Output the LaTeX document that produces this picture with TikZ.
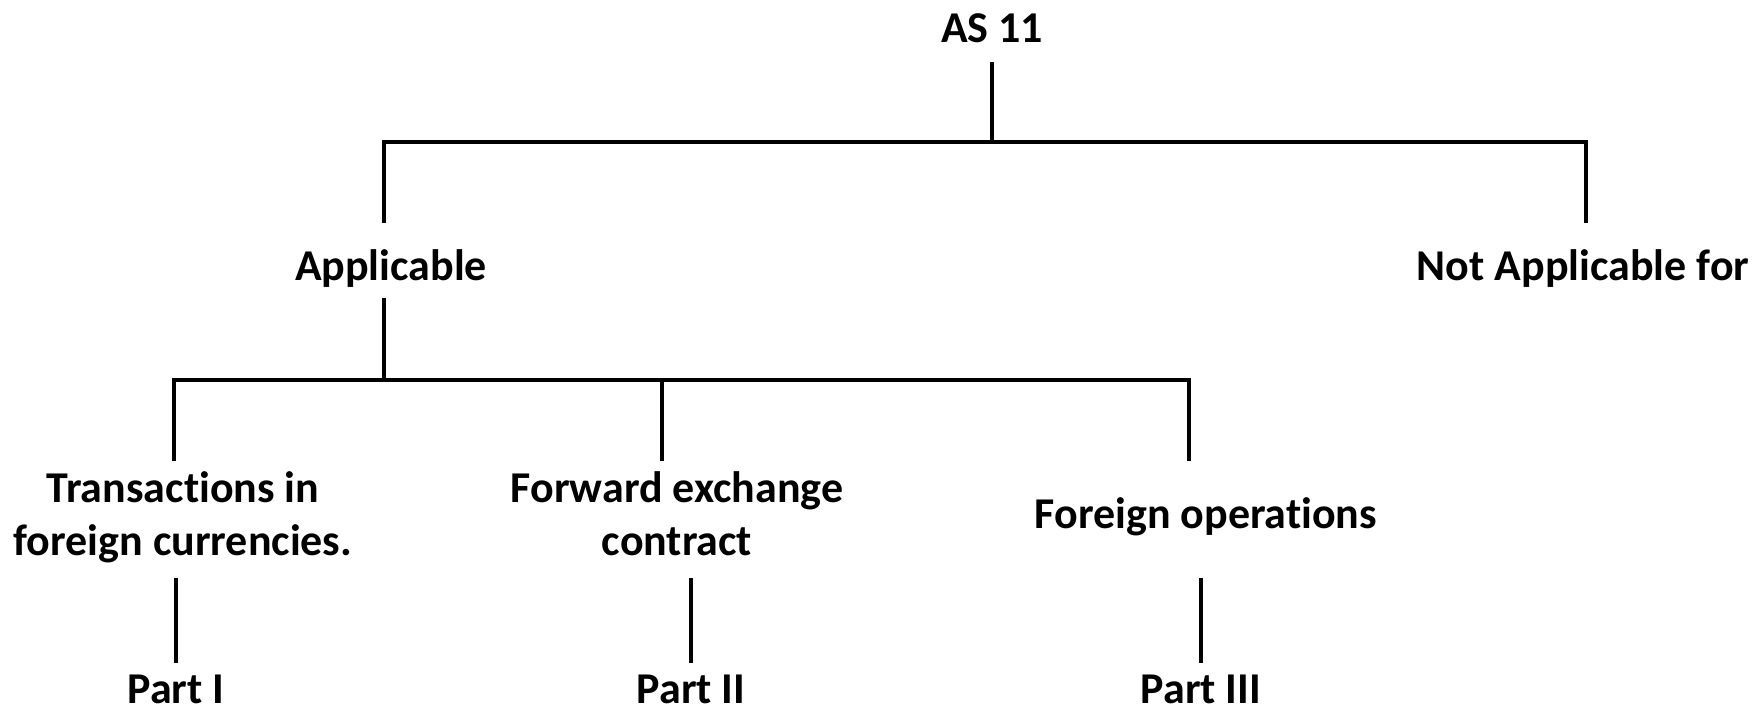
\documentclass[tikz,border=0pt]{standalone}
\usepackage{fontspec}
\setmainfont[Ligatures=NoCommon]{Carlito}
\begin{document}
\begin{tikzpicture}[x=1pt,y=-1pt,
  lbl/.style={font=\fontsize{44}{53}\selectfont\bfseries, inner sep=0pt, anchor=base, align=center},
  wire/.style={line width=4pt, line cap=rect}]
\useasboundingbox (0,0) rectangle (1757,711);

% text labels, placed on the baseline of their last line
\node[lbl] (as)   at (992,43)  {AS 11};
\node[lbl] (app)  at (391,281) {Applicable};
\node[lbl] (nap)  at (1583,281) {Not Applicable for};
\node[lbl] (trx)  at (183,555) {Transactions in\\foreign currencies.};
\node[lbl] (fwd)  at (677,555) {Forward exchange\\contract};
\node[lbl] (fop)  at (1206,528) {Foreign operations};
\node[lbl] (p1)   at (176,703) {Part I};
\node[lbl] (p2)   at (691,703) {Part II};
\node[lbl] (p3)   at (1201,703) {Part III};

% junction and stub points of the tree
\coordinate (asS)  at (992,64);
\coordinate (j1)   at (992,142);
\coordinate (jL)   at (384,142);
\coordinate (jR)   at (1586,142);
\coordinate (appN) at (384,221);
\coordinate (napN) at (1586,221);
\coordinate (appS) at (384,300);
\coordinate (j2)   at (384,380);
\coordinate (kL)   at (174,380);
\coordinate (kM)   at (662,380);
\coordinate (kR)   at (1189,380);
\coordinate (trxN) at (174,459);
\coordinate (fwdN) at (662,459);
\coordinate (fopN) at (1189,459);
\coordinate (trxS) at (176,580);
\coordinate (fwdS) at (691,580);
\coordinate (fopS) at (1201,580);
\coordinate (p1N)  at (176,661);
\coordinate (p2N)  at (691,661);
\coordinate (p3N)  at (1201,661);

% connectors
\draw[wire] (asS) -- (j1);
\draw[wire] (appN) -- (jL) -- (jR) -- (napN);
\draw[wire] (appS) -- (j2);
\draw[wire] (trxN) -- (kL) -- (kR) -- (fopN);
\draw[wire] (kM) -- (fwdN);
\draw[wire] (trxS) -- (p1N);
\draw[wire] (fwdS) -- (p2N);
\draw[wire] (fopS) -- (p3N);
\end{tikzpicture}
\end{document}
